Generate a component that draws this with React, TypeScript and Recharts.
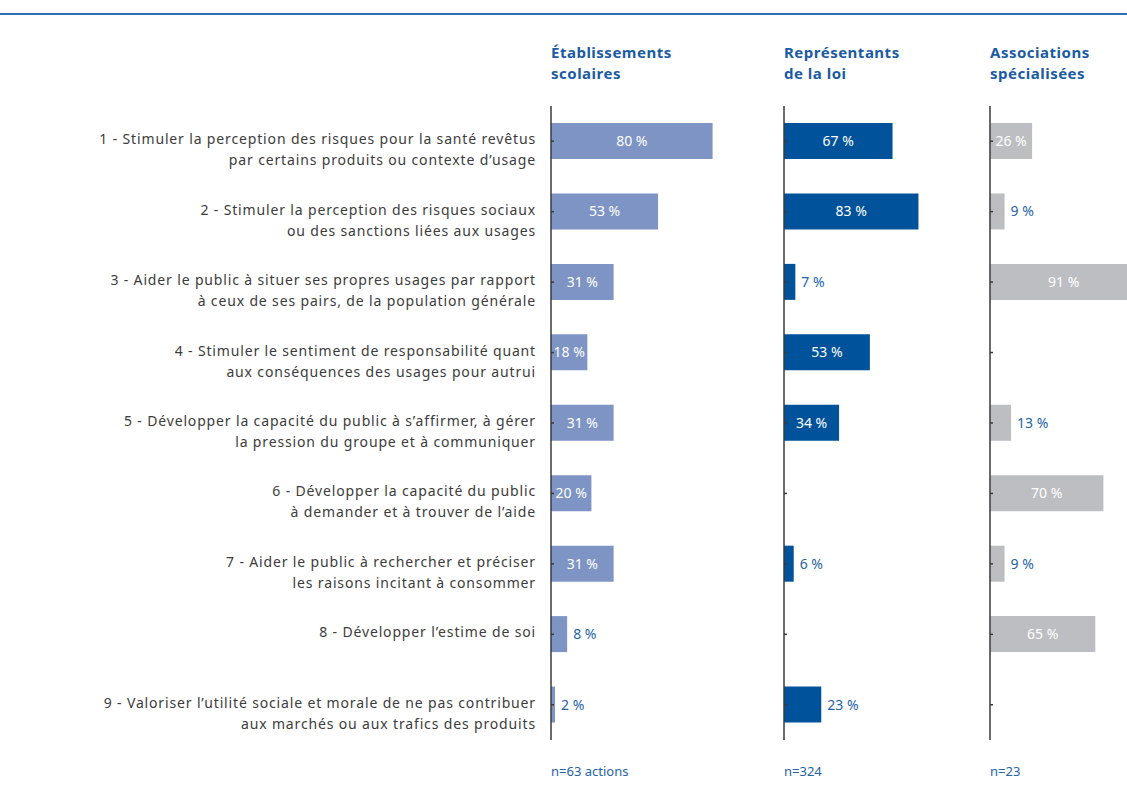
import React from 'react';
import { BarChart, Bar, XAxis, YAxis, LabelList } from 'recharts';

// Libellés des objectifs (deux lignes séparées par \n)
const CATEGORIES = [
  '1 - Stimuler la perception des risques pour la santé revêtus\npar certains produits ou contexte d’usage',
  '2 - Stimuler la perception des risques sociaux\nou des sanctions liées aux usages',
  '3 - Aider le public à situer ses propres usages par rapport\nà ceux de ses pairs, de la population générale',
  '4 - Stimuler le sentiment de responsabilité quant\naux conséquences des usages pour autrui',
  '5 - Développer la capacité du public à s’affirmer, à gérer\nla pression du groupe et à communiquer',
  '6 - Développer la capacité du public\nà demander et à trouver de l’aide',
  '7 - Aider le public à rechercher et préciser\nles raisons incitant à consommer',
  '8 - Développer l’estime de soi',
  '9 - Valoriser l’utilité sociale et morale de ne pas contribuer\naux marchés ou aux trafics des produits',
];

// Pourcentages par type de porteur (null = pas de barre)
const ETABLISSEMENTS = [80, 53, 31, 18, 31, 20, 31, 8, 2];
const LOI = [67, 83, 7, 53, 34, null, 6, null, 23];
const ASSOCIATIONS = [26, 9, 91, null, 13, 70, 9, 65, null];

const TITLES = [
  ['Établissements', 'scolaires'],
  ['Représentants', 'de la loi'],
  ['Associations', 'spécialisées'],
];
const COUNTS = ['n=63 actions', 'n=324', 'n=23'];

const FONT = '"Noto Sans", "Open Sans", sans-serif';
const BLUE_TEXT = '#2563a8';
const TITLE_BLUE = '#1b5ba3';
const AXIS = '#3a3a3a';

const rows = CATEGORIES.map((label, i) => ({
  label,
  etab: ETABLISSEMENTS[i],
  loi: LOI[i],
  assoc: ASSOCIATIONS[i],
}));

const PANELS = [
  { key: 'etab', color: '#7d94c5', left: 0, axisWidth: 551, plotWidth: 202, insideFrom: 15, withLabels: true },
  { key: 'loi', color: '#00529b', left: 764, axisWidth: 20, plotWidth: 162, insideFrom: 30, withLabels: false },
  { key: 'assoc', color: '#bdbec2', left: 970, axisWidth: 20, plotWidth: 162, insideFrom: 20, withLabels: false },
];

const CHART_H = 795;
const TOP = 106;
const BOTTOM = 55;

const makeTick = (withLabels: boolean) => (props: any) => {
  const { x, y, payload } = props;
  const lines = String(payload.value).split('\n');
  return (
    <g>
      <line x1={x} x2={x + 3} y1={y} y2={y} stroke={AXIS} strokeWidth={1.5} />
      {withLabels &&
        lines.map((line, i) => (
          <text
            key={i}
            x={x - 15}
            y={y + 3 + i * 21}
            textAnchor="end"
            fill="#3c3c3c"
            fontSize={14}
            letterSpacing={0.85}
            fontFamily={FONT}
          >
            {line}
          </text>
        ))}
    </g>
  );
};

const makeBarLabel = (insideFrom: number) => (props: any) => {
  const { x, y, width, height, value } = props;
  if (value == null) return null;
  const inside = value >= insideFrom;
  return (
    <text
      x={inside ? x + width / 2 : x + width + 6}
      y={y + height / 2}
      dy={5}
      textAnchor={inside ? 'middle' : 'start'}
      fill={inside ? '#ffffff' : BLUE_TEXT}
      fontSize={14}
      fontFamily={FONT}
    >
      {`${value} %`}
    </text>
  );
};

const Panel = ({ cfg }: { cfg: typeof PANELS[number] }) => {
  const right = 60;
  return (
    <div style={{ position: 'absolute', left: cfg.left, top: 0 }}>
      <BarChart
        width={cfg.axisWidth + cfg.plotWidth + right}
        height={CHART_H}
        data={rows}
        layout="vertical"
        margin={{ top: TOP, right, bottom: BOTTOM, left: 0 }}
      >
        <XAxis type="number" domain={[0, 100]} hide />
        <YAxis
          type="category"
          dataKey="label"
          width={cfg.axisWidth}
          axisLine={{ stroke: AXIS, strokeWidth: 1.5 }}
          tickLine={false}
          tickSize={0}
          tickMargin={0}
          interval={0}
          tick={makeTick(cfg.withLabels)}
        />
        <Bar dataKey={cfg.key} fill={cfg.color} barSize={36} isAnimationActive={false}>
          <LabelList dataKey={cfg.key} content={makeBarLabel(cfg.insideFrom)} />
        </Bar>
      </BarChart>
    </div>
  );
};

export default function App() {
  const heads = [551, 784, 990];
  return (
    <div
      style={{
        position: 'absolute',
        left: 0,
        top: 0,
        width: 1127,
        height: 795,
        overflow: 'hidden',
        background: '#fff',
        fontFamily: FONT,
      }}
    >
      <div style={{ position: 'absolute', left: 0, top: 13, width: 1127, height: 2, background: '#2f70b6' }} />
      {TITLES.map((t, i) =>
        t.map((line, j) => (
          <div
            key={`${i}-${j}`}
            style={{
              position: 'absolute',
              left: heads[i],
              top: 43 + j * 21,
              color: TITLE_BLUE,
              fontWeight: 700,
              fontSize: 15,
              letterSpacing: 0.5,
              lineHeight: '19px',
              whiteSpace: 'nowrap',
            }}
          >
            {line}
          </div>
        ))
      )}
      {PANELS.map((p) => (
        <Panel key={p.key} cfg={p} />
      ))}
      {COUNTS.map((c, i) => (
        <div
          key={c}
          style={{
            position: 'absolute',
            left: heads[i],
            top: 763,
            color: BLUE_TEXT,
            fontSize: 13,
            lineHeight: '16px',
          }}
        >
          {c}
        </div>
      ))}
    </div>
  );
}
